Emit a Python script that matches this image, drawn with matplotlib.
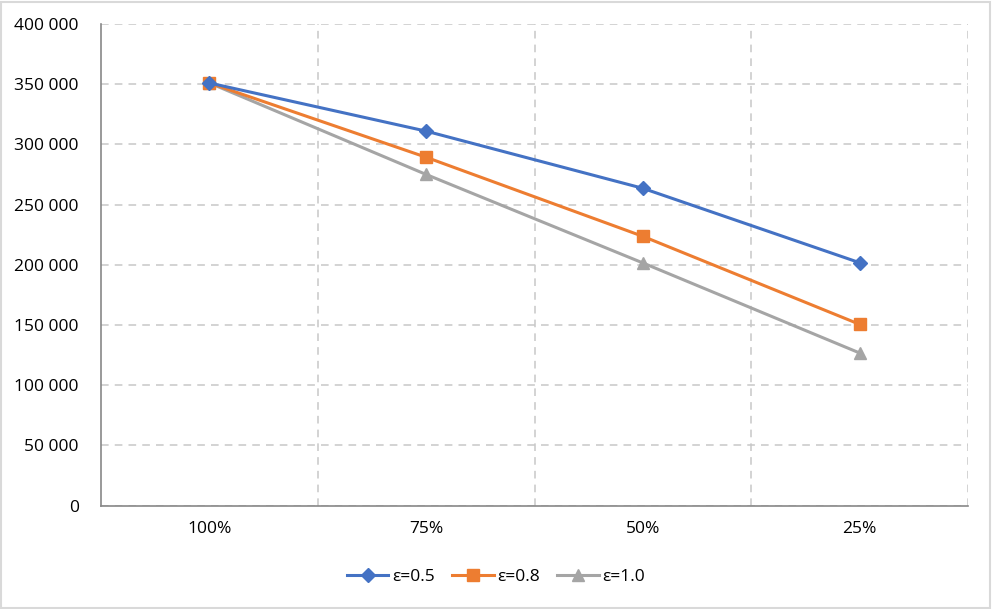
import matplotlib
matplotlib.use("Agg")
import matplotlib.pyplot as plt
from matplotlib.ticker import FuncFormatter, MultipleLocator
from matplotlib.patches import Rectangle

categories = ["100%", "75%", "50%", "25%"]
eps05 = [351000, 311000, 263500, 201700]
eps08 = [351000, 289300, 223600, 150500]
eps10 = [351000, 275000, 201500, 126700]
labels = ["ε=0.5", "ε=0.8", "ε=1.0"]

plt.rcParams['font.family'] = ['Open Sans', 'DejaVu Sans']

fig = plt.figure(figsize=(9.92, 6.09), dpi=100)
ax = fig.add_axes([101/992, 1-505.5/609, (968-101)/992, (505.5-24)/609])

x = list(range(len(categories)))
ax.plot(x, eps05, color='#4472C4', lw=2.2, marker='D', ms=7, label=labels[0], zorder=5)
ax.plot(x, eps08, color='#ED7D31', lw=2.2, marker='s', ms=9, label=labels[1], zorder=4)
ax.plot(x, eps10, color='#A5A5A5', lw=2.2, marker='^', ms=9, label=labels[2], zorder=3)

ax.set_xlim(-0.5, 3.5)
ax.set_ylim(0, 400000)
ax.yaxis.set_major_locator(MultipleLocator(50000))
ax.yaxis.set_major_formatter(FuncFormatter(lambda v, p: f"{int(v):,}".replace(",", " ")))
ax.set_xticks(x)
ax.set_xticklabels(categories)
ax.set_xticks([0.5, 1.5, 2.5, 3.5], minor=True)

ax.grid(True, axis='y', which='major', color='#C8C8C8', ls=(0, (5, 4)), lw=1.1)
ax.grid(True, axis='x', which='minor', color='#C8C8C8', ls=(0, (5, 4)), lw=1.1)
ax.grid(False, axis='x', which='major')

for s in ['top', 'right']:
    ax.spines[s].set_visible(False)
ax.spines['left'].set_color('#888888')
ax.spines['bottom'].set_color('#888888')
ax.spines['left'].set_linewidth(1.2)
ax.spines['bottom'].set_linewidth(1.2)
ax.tick_params(axis='both', which='both', length=0, labelsize=12.5, colors='#000000')
ax.tick_params(axis='y', pad=16)
ax.tick_params(axis='x', pad=11)

fig.legend(loc='center', bbox_to_anchor=(0.5, 1-577/609), ncol=3, frameon=False,
           fontsize=12.5, handlelength=2.4, columnspacing=1.0, handletextpad=0.2)

fig.patches.append(Rectangle((1/992, 1/609), 989/992, 606/609, transform=fig.transFigure,
                             fill=False, edgecolor='#D9D9D9', lw=1.5))

fig.savefig("out.png", dpi=100)
